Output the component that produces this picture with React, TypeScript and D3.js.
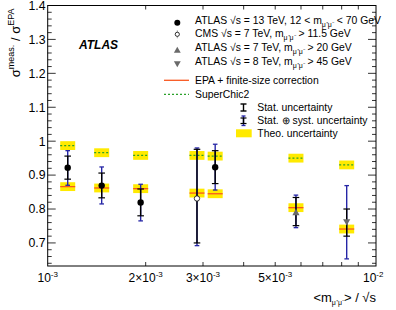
import React from "react";
import * as d3 from "d3";

// mean m(mumu)/sqrt(s) of each measurement
const xATLAS13 = [1.152e-3, 1.465e-3, 1.93e-3, 3.27e-3];
const yATLAS13 = [0.922, 0.869, 0.819, 0.923];
const statLoATLAS13 = [0.888, 0.833, 0.78, 0.875];
const statHiATLAS13 = [0.956, 0.906, 0.859, 0.972];
const totLoATLAS13 = [0.87, 0.815, 0.765, 0.856];
const totHiATLAS13 = [0.972, 0.924, 0.873, 0.991];
const epaATLAS13 = [0.866, 0.862, 0.86, 0.845];
const scATLAS13 = [0.987, 0.966, 0.958, 0.956];

const xOthers = [2.875e-3, 5.79e-3, 8.29e-3];
const markerOthers = ["circleOpen", "triUp", "triDown"];
const yOthers = [0.831, 0.789, 0.763];
const statLoOthers = [0.7, 0.751, 0.72];
const statHiOthers = [0.976, 0.834, 0.8];
const totLoOthers = [0.692, 0.745, 0.653];
const totHiOthers = [0.98, 0.841, 0.869];
const epaOthers = [0.847, 0.804, 0.741];
const scOthers = [0.958, 0.95, 0.93];

const theoErr = 0.013;

const yTicks = [0.7, 0.8, 0.9, 1.0, 1.1, 1.2, 1.3, 1.4];
const yTickLabels = ["0.7", "0.8", "0.9", "1", "1.1", "1.2", "1.3", "1.4"];
const xTickMult = [2, 3, 4, 5, 6, 7, 8, 9];
const xLabelled = [
  { v: 1e-3, pre: "10", sup: "-3" },
  { v: 2e-3, pre: "2\u00d710", sup: "-3" },
  { v: 3e-3, pre: "3\u00d710", sup: "-3" },
  { v: 5e-3, pre: "5\u00d710", sup: "-3" },
  { v: 1e-2, pre: "10", sup: "-2" },
];

const L = 47.7, R = 376, T = 5.5, B = 266;
const x = d3.scaleLog().domain([1e-3, 1.02e-2]).range([L, R]);
const y = d3.scaleLinear().domain([0.632, 1.4]).range([B, T]);

const YELLOW = "#ffea00";
const RED = "#f8571f";
const GREEN = "#2aa12a";
const BLUE = "#2626a6";
const GREY = "#6a6a6a";
const FONT = "'Liberation Sans', Arial, Helvetica, sans-serif";

const BOXW = 7.5;
const LEGFS = 10.4;

function Theory({ xv, epa, sc }: { xv: number; epa: number; sc: number }) {
  const cx = x(xv);
  return (
    <g>
      <rect x={cx - BOXW} width={2 * BOXW} y={y(sc + theoErr)} height={y(sc - theoErr) - y(sc + theoErr)} fill={YELLOW} />
      <rect x={cx - BOXW} width={2 * BOXW} y={y(epa + theoErr)} height={y(epa - theoErr) - y(epa + theoErr)} fill={YELLOW} />
      <line x1={cx - BOXW} x2={cx + BOXW} y1={y(epa)} y2={y(epa)} stroke={RED} strokeWidth={1.3} />
      <line x1={cx - BOXW} x2={cx + BOXW} y1={y(sc)} y2={y(sc)} stroke={GREEN} strokeWidth={1.3} strokeDasharray="2,2" />
    </g>
  );
}

function Marker({ cx, cy, kind, r = 3.2 }: { cx: number; cy: number; kind: string; r?: number }) {
  if (kind === "circle") return <circle cx={cx} cy={cy} r={r} fill="black" />;
  if (kind === "circleOpen") return <circle cx={cx} cy={cy} r={r - 0.5} fill="white" stroke="black" strokeWidth={0.8} />;
  const s = r + 0.8;
  if (kind === "triUp")
    return <path d={`M${cx},${cy - s} L${cx + s * 0.9},${cy + s * 0.6} L${cx - s * 0.9},${cy + s * 0.6}Z`} fill={GREY} />;
  return <path d={`M${cx},${cy + s} L${cx + s * 0.9},${cy - s * 0.6} L${cx - s * 0.9},${cy - s * 0.6}Z`} fill={GREY} />;
}

function ErrBar({ xv, lo, hi, tlo, thi }: { xv: number; lo: number; hi: number; tlo: number; thi: number }) {
  const cx = x(xv);
  return (
    <g>
      <line x1={cx} x2={cx} y1={y(thi)} y2={y(tlo)} stroke={BLUE} strokeWidth={1.4} />
      <line x1={cx - 2.3} x2={cx + 2.3} y1={y(thi)} y2={y(thi)} stroke={BLUE} strokeWidth={1.3} />
      <line x1={cx - 2.3} x2={cx + 2.3} y1={y(tlo)} y2={y(tlo)} stroke={BLUE} strokeWidth={1.3} />
      <line x1={cx} x2={cx} y1={y(hi)} y2={y(lo)} stroke="black" strokeWidth={1.4} />
      <line x1={cx - 3.3} x2={cx + 3.3} y1={y(hi)} y2={y(hi)} stroke="black" strokeWidth={1.2} />
      <line x1={cx - 3.3} x2={cx + 3.3} y1={y(lo)} y2={y(lo)} stroke="black" strokeWidth={1.2} />
    </g>
  );
}

function Sub() {
  return (
    <tspan fontSize={7} dy={3}>
      {"\u03bc\u207a\u03bc\u207b"}
    </tspan>
  );
}

export default function App() {
  const minorY = d3.range(0.64, 1.4001, 0.02);
  const xTicks = xTickMult.map((m) => m * 1e-3);
  const legRows = [
    { kind: "circle", my: 22.7, ty: 24.2, pre: "ATLAS \u221as = 13 TeV, 12 < m", post: " < 70 GeV" },
    { kind: "circleOpen", my: 34.3, ty: 37.2, pre: "CMS \u221as = 7 TeV, m", post: " > 11.5 GeV" },
    { kind: "triUp", my: 50.5, ty: 50.8, pre: "ATLAS \u221as = 7 TeV, m", post: " > 20 GeV" },
    { kind: "triDown", my: 63.5, ty: 65.2, pre: "ATLAS \u221as = 8 TeV, m", post: " > 45 GeV" },
  ];
  return (
    <svg width={396} height={310} style={{ display: "block", position: "absolute", left: 0, top: 0 }} fontFamily={FONT}>
      <rect width={396} height={310} fill="white" />
      {/* theory boxes */}
      {xATLAS13.map((v, i) => (
        <Theory key={"ta" + i} xv={v} epa={epaATLAS13[i]} sc={scATLAS13[i]} />
      ))}
      {xOthers.map((v, i) => (
        <Theory key={"to" + i} xv={v} epa={epaOthers[i]} sc={scOthers[i]} />
      ))}
      {/* data */}
      {xOthers.map((v, i) => (
        <g key={"do" + i}>
          <ErrBar xv={v} lo={statLoOthers[i]} hi={statHiOthers[i]} tlo={totLoOthers[i]} thi={totHiOthers[i]} />
          <Marker cx={x(v)} cy={y(yOthers[i])} kind={markerOthers[i]} />
        </g>
      ))}
      {xATLAS13.map((v, i) => (
        <g key={"da" + i}>
          <ErrBar xv={v} lo={statLoATLAS13[i]} hi={statHiATLAS13[i]} tlo={totLoATLAS13[i]} thi={totHiATLAS13[i]} />
          <Marker cx={x(v)} cy={y(yATLAS13[i])} kind="circle" />
        </g>
      ))}
      {/* frame */}
      <rect x={L} y={T} width={R - L} height={B - T} fill="none" stroke="black" strokeWidth={1} />
      {minorY.map((v, i) => {
        const major = Math.abs(v * 10 - Math.round(v * 10)) < 1e-6;
        const len = major ? 8 : 4;
        return (
          <g key={"yt" + i}>
            <line x1={L} x2={L + len} y1={y(v)} y2={y(v)} stroke="black" strokeWidth={0.8} />
            <line x1={R} x2={R - len} y1={y(v)} y2={y(v)} stroke="black" strokeWidth={0.8} />
          </g>
        );
      })}
      {xTicks.map((v, i) => (
        <g key={"xt" + i}>
          <line x1={x(v)} x2={x(v)} y1={B} y2={B - 4} stroke="black" strokeWidth={0.8} />
          <line x1={x(v)} x2={x(v)} y1={T} y2={T + 4} stroke="black" strokeWidth={0.8} />
        </g>
      ))}
      {yTicks.map((v, i) => (
        <text key={"yl" + i} x={45.5} y={y(v) + 4.4} fontSize={12.3} textAnchor="end">
          {yTickLabels[i]}
        </text>
      ))}
      {xLabelled.map((d, i) => (
        <text key={"xl" + i} x={x(d.v)} y={282} fontSize={12} textAnchor="middle">
          {d.pre}
          <tspan fontSize={8} dy={-5}>
            {d.sup}
          </tspan>
        </text>
      ))}
      {/* axis titles */}
      <text x={376} y={302} fontSize={13} textAnchor="end">
        {"<m"}
        <Sub />
        <tspan dy={-3}>{"> / \u221as"}</tspan>
      </text>
      <text transform="translate(20,8.5) rotate(-90)" fontSize={13} textAnchor="end">
        {"\u03c3"}
        <tspan fontSize={9} dy={-6}>meas.</tspan>
        <tspan dy={6}>{" / \u03c3"}</tspan>
        <tspan fontSize={9} dy={-6}>EPA</tspan>
      </text>
      <text x={79} y={49.3} fontSize={12} fontWeight="bold" fontStyle="italic">
        ATLAS
      </text>
      {/* legend */}
      {legRows.map((r, i) => (
        <g key={"lg" + i}>
          {r.kind === "circleOpen" && <line x1={177.3} x2={177.3} y1={r.my - 4} y2={r.my + 4} stroke="#888" strokeWidth={0.8} />}
          <Marker cx={177.3} cy={r.my} kind={r.kind} r={r.kind === "circleOpen" ? 2.6 : 3} />
          <text x={195} y={r.ty} fontSize={LEGFS}>
            {r.pre}
            <Sub />
            <tspan dy={-3}>{r.post}</tspan>
          </text>
        </g>
      ))}
      <line x1={164} x2={189} y1={80.3} y2={80.3} stroke={RED} strokeWidth={1.3} />
      <text x={195} y={83.8} fontSize={LEGFS}>EPA + finite-size correction</text>
      <line x1={164} x2={189} y1={94.3} y2={94.3} stroke={GREEN} strokeWidth={1.3} strokeDasharray="2,2" />
      <text x={195} y={97.8} fontSize={LEGFS}>SuperChic2</text>
      <g>
        <line x1={243.5} x2={243.5} y1={104} y2={111} stroke="black" strokeWidth={1.4} />
        <line x1={240.5} x2={246.5} y1={104} y2={104} stroke="black" strokeWidth={1.4} />
        <line x1={240.5} x2={246.5} y1={111} y2={111} stroke="black" strokeWidth={1.4} />
      </g>
      <text x={257.3} y={110.8} fontSize={LEGFS}>Stat. uncertainty</text>
      <g>
        <line x1={243.5} x2={243.5} y1={116} y2={125.5} stroke={BLUE} strokeWidth={1.4} />
        <line x1={241.5} x2={245.5} y1={116} y2={116} stroke={BLUE} strokeWidth={1.3} />
        <line x1={241.5} x2={245.5} y1={125.5} y2={125.5} stroke={BLUE} strokeWidth={1.3} />
        <line x1={243.5} x2={243.5} y1={118} y2={123.5} stroke="black" strokeWidth={1.4} />
        <line x1={240.5} x2={246.5} y1={118} y2={118} stroke="black" strokeWidth={1.2} />
        <line x1={240.5} x2={246.5} y1={123.5} y2={123.5} stroke="black" strokeWidth={1.2} />
      </g>
      <text x={257.3} y={124.2} fontSize={LEGFS}>{"Stat. \u2295 syst. uncertainty"}</text>
      <rect x={236} y={129.3} width={15.7} height={8} fill={YELLOW} />
      <text x={257.3} y={136.8} fontSize={LEGFS}>Theo. uncertainty</text>
    </svg>
  );
}
